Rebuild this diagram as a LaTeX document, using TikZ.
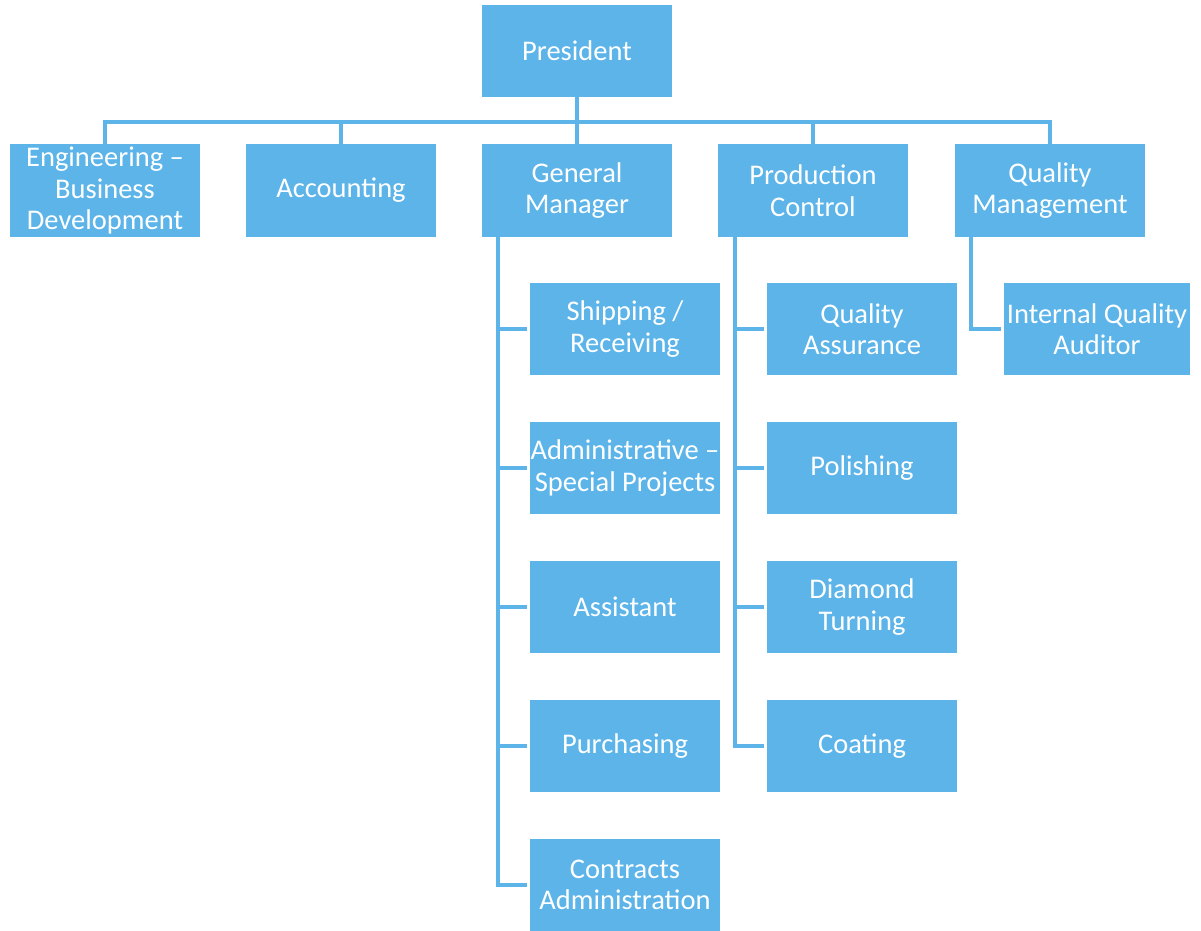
\documentclass[tikz,border=0pt]{standalone}
\usepackage{fontspec}
\setmainfont{Carlito}
\definecolor{boxblue}{RGB}{92,180,233}
\tikzset{
  x=1pt, y=-1pt,
  orgbox/.style={fill=boxblue, draw=none, minimum width=190pt, minimum height=92pt,
    inner sep=0pt, align=center, text=white, font=\fontsize{28.5}{31.5}\selectfont},
  link/.style={draw=boxblue, line width=4pt, line join=miter},
}
\begin{document}
\begin{tikzpicture}
\useasboundingbox (0,0) rectangle (1201,930);
% top
\node[orgbox] (pres) at (577,51) {President};
\node[orgbox, minimum height=93pt] (eng) at (105,190.5) {Engineering --\\Business\\Development};
\node[orgbox, minimum height=93pt] (acc) at (341,190.5) {Accounting};
\node[orgbox, minimum height=93pt] (gm) at (577,190.5) {General\\Manager};
\node[orgbox, minimum height=93pt] (pc) at (813,190.5) {Production\\Control};
\node[orgbox, minimum height=93pt] (qm) at (1050,190.5) {Quality\\Management};
% GM children
\node[orgbox] (ship) at (625,329) {Shipping /\\Receiving};
\node[orgbox] (admin) at (625,468) {Administrative --\\Special Projects};
\node[orgbox] (asst) at (625,607) {Assistant};
\node[orgbox] (purch) at (625,746) {Purchasing};
\node[orgbox] (contr) at (625,885) {Contracts\\Administration};
% PC children
\node[orgbox] (qa) at (862,329) {Quality\\Assurance};
\node[orgbox] (pol) at (862,468) {Polishing};
\node[orgbox] (dia) at (862,607) {Diamond\\Turning};
\node[orgbox] (coat) at (862,746) {Coating};
% QM child
\node[orgbox, minimum width=186pt] (iqa) at (1097,329) {Internal Quality\\Auditor};
% connectors
\coordinate (bus) at (577,122);
\draw[link] (pres.south) -- (gm.north);
\draw[link] (eng.north) |- (bus) -| (qm.north);
\draw[link] (acc.north) -- (acc.north |- bus);
\draw[link] (pc.north) -- (pc.north |- bus);
\coordinate (gms) at ([xshift=16pt]gm.south west);
\coordinate (pcs) at ([xshift=17pt]pc.south west);
\coordinate (qms) at ([xshift=16pt]qm.south west);
\draw[link, shorten >=3pt] (gms) |- (contr.west);
\foreach \n in {ship,admin,asst,purch}{
  \draw[link, shorten >=3pt] (gms |- \n.west) -- (\n.west);
}
\draw[link, shorten >=3pt] (pcs) |- (coat.west);
\foreach \n in {qa,pol,dia}{
  \draw[link, shorten >=3pt] (pcs |- \n.west) -- (\n.west);
}
\draw[link, shorten >=3pt] (qms) |- (iqa.west);
\end{tikzpicture}
\end{document}
